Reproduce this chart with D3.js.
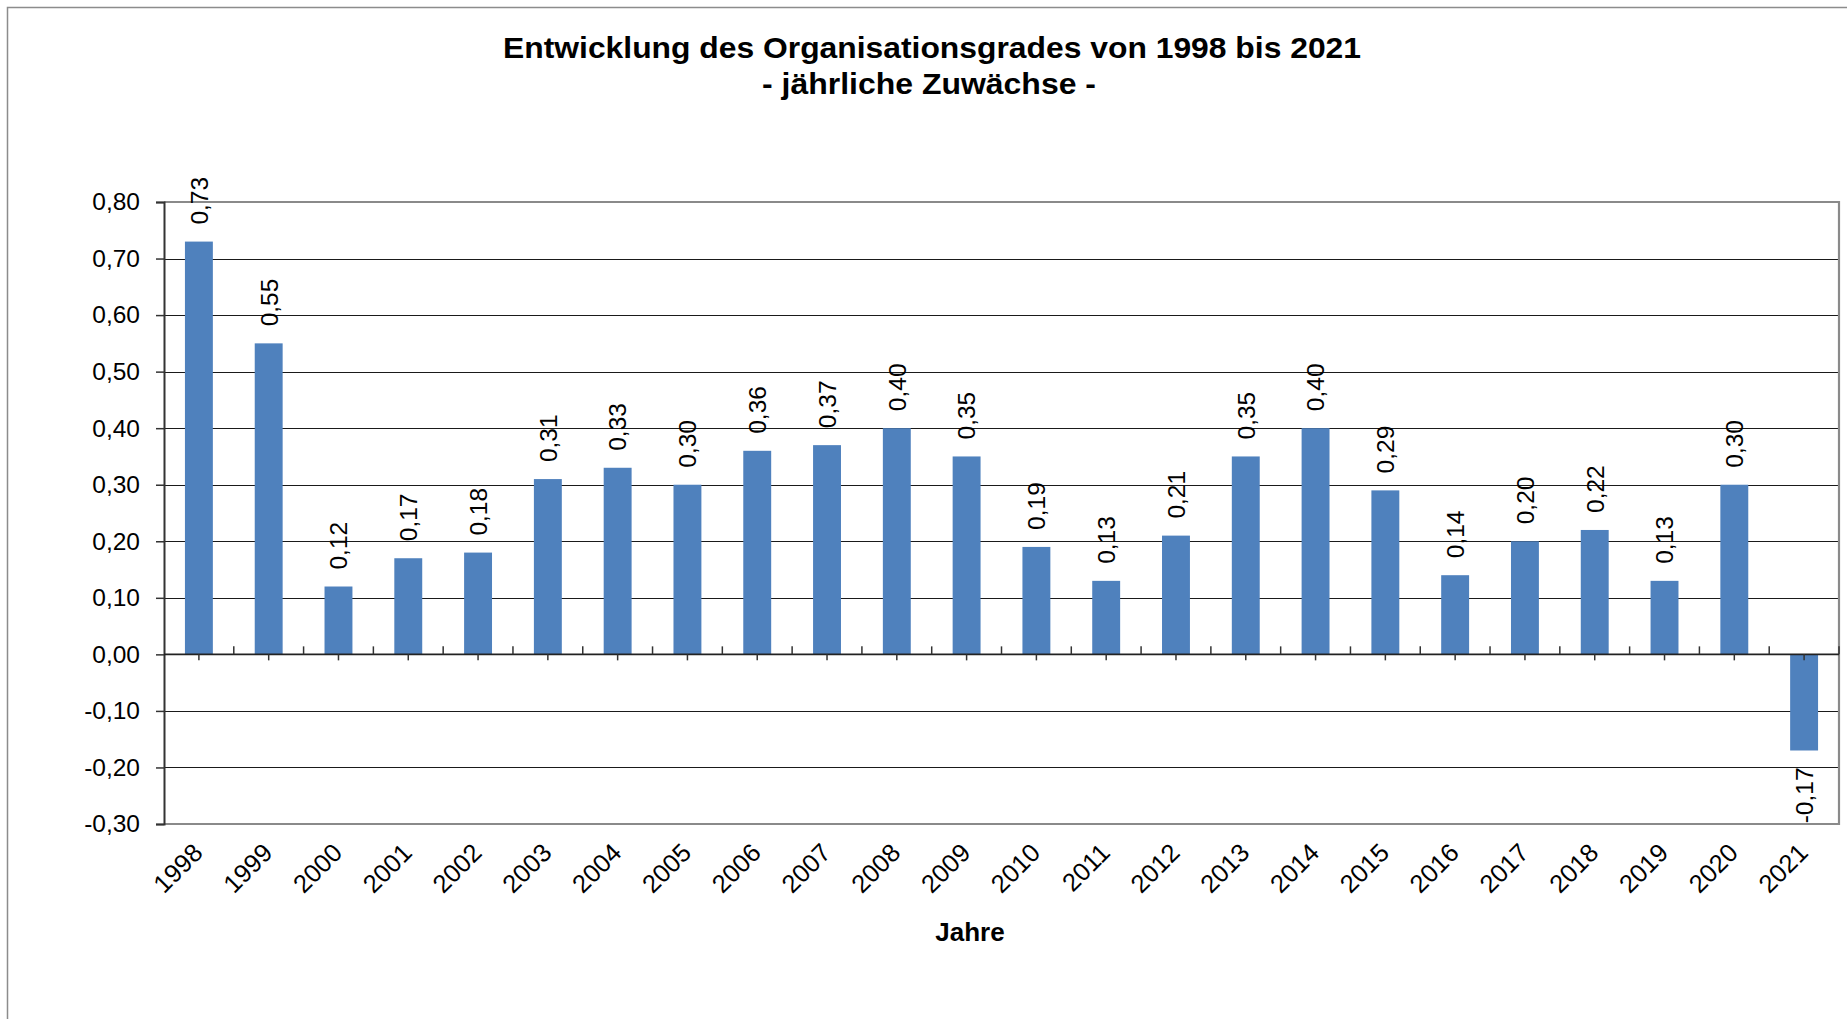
<!DOCTYPE html>
<html>
<head>
<meta charset="utf-8">
<script src="https://cdnjs.cloudflare.com/ajax/libs/d3/7.8.5/d3.min.js"></script>
<style>
  body { margin: 0; background: #fff; }
  svg { display: block; font-family: "Liberation Sans", Arial, sans-serif; }
</style>
</head>
<body>
<svg id="chart"></svg>
<script>
var years = ["1998","1999","2000","2001","2002","2003","2004","2005","2006","2007","2008","2009",
             "2010","2011","2012","2013","2014","2015","2016","2017","2018","2019","2020","2021"];
var values = [0.73, 0.55, 0.12, 0.17, 0.18, 0.31, 0.33, 0.30, 0.36, 0.37, 0.40, 0.35,
              0.19, 0.13, 0.21, 0.35, 0.40, 0.29, 0.14, 0.20, 0.22, 0.13, 0.30, -0.17];
var yTicks = [-0.3, -0.2, -0.1, 0, 0.1, 0.2, 0.3, 0.4, 0.5, 0.6, 0.7, 0.8];
var titleLines = ["Entwicklung des Organisationsgrades von 1998 bis 2021", "- jährliche Zuwächse -"];
var xTitle = "Jahre";

var W = 1847, H = 1019;
var margin = {top: 202, right: 8, bottom: 195, left: 164};
var svg = d3.select("#chart").attr("width", W).attr("height", H);

// German style number: comma decimal, plain hyphen for minus
var fmt = function(v) {
    var s = Math.abs(v).toFixed(2).replace(".", ",");
    return (v < 0 ? "-" : "") + s;
};

// outer chart frame (runs off right/bottom edge)
svg.append("rect")
    .attr("x", 7.5).attr("y", 7.5)
    .attr("width", 1870).attr("height", 1040)
    .attr("fill", "none")
    .attr("stroke", "#8c8c8c")
    .attr("stroke-width", 1.5);

var x = d3.scaleBand()
    .domain(years)
    .range([margin.left, W - margin.right])
    .paddingInner(0.6)
    .paddingOuter(0.3);

var y = d3.scaleLinear()
    .domain([-0.3, 0.8])
    .range([H - margin.bottom, margin.top]);

// gridlines
svg.append("g")
    .selectAll("line")
    .data(yTicks)
    .join("line")
    .attr("x1", margin.left).attr("x2", W - margin.right)
    .attr("y1", function(d) { return Math.round(y(d)) + 0.5; })
    .attr("y2", function(d) { return Math.round(y(d)) + 0.5; })
    .attr("stroke", "#1a1a1a")
    .attr("stroke-width", 1);

// bars
svg.append("g")
    .selectAll("rect")
    .data(values)
    .join("rect")
    .attr("x", function(d, i) { return x(years[i]); })
    .attr("y", function(d) { return y(Math.max(0, d)); })
    .attr("width", x.bandwidth())
    .attr("height", function(d) { return Math.abs(y(d) - y(0)); })
    .attr("fill", "#4f81bd");

// plot area border (top, right, bottom)
svg.append("path")
    .attr("d", "M" + margin.left + "," + y(0.8) + "H" + (W - margin.right) +
               "V" + y(-0.3) + "H" + margin.left)
    .attr("fill", "none")
    .attr("stroke", "#8a8a8a")
    .attr("stroke-width", 2.2);

// y axis
var yAxis = svg.append("g")
    .attr("transform", "translate(" + margin.left + ",0)")
    .call(d3.axisLeft(y).tickValues(yTicks).tickFormat(fmt).tickSize(8).tickPadding(16));
yAxis.select(".domain").attr("stroke", "#333").attr("stroke-width", 2);
yAxis.selectAll(".tick line").attr("stroke", "#333").attr("stroke-width", 1.5);
yAxis.selectAll("text").attr("font-size", 24.5).attr("fill", "#000")
    .attr("font-family", "Liberation Sans, Arial, sans-serif");

// category axis along zero line
var y0 = y(0);
var bounds = d3.range(years.length + 1).map(function(i) { return x.range()[0] + i * x.step(); });
svg.append("line")
    .attr("x1", margin.left).attr("x2", W - margin.right)
    .attr("y1", y0).attr("y2", y0)
    .attr("stroke", "#222").attr("stroke-width", 1.6);
svg.append("g").selectAll("line")
    .data(bounds.slice(1))
    .join("line")
    .attr("x1", function(d) { return d; }).attr("x2", function(d) { return d; })
    .attr("y1", y0 - 8).attr("y2", y0)
    .attr("stroke", "#333").attr("stroke-width", 1.5);
svg.append("g").selectAll("line")
    .data(years)
    .join("line")
    .attr("x1", function(d) { return x(d) + x.bandwidth() / 2; })
    .attr("x2", function(d) { return x(d) + x.bandwidth() / 2; })
    .attr("y1", y0).attr("y2", y0 + 6)
    .attr("stroke", "#333").attr("stroke-width", 1.5);

// rotated year labels below plot
svg.append("g").selectAll("text")
    .data(years)
    .join("text")
    .attr("transform", function(d) {
        return "translate(" + (x(d) + x.bandwidth() / 2 - 1) + "," + (y(-0.3) + 24) + ") rotate(-45)";
    })
    .attr("text-anchor", "end")
    .attr("dy", "0.35em")
    .attr("font-size", 25.5)
    .text(function(d) { return d; });

// data labels (vertical)
svg.append("g").selectAll("text")
    .data(values)
    .join("text")
    .attr("transform", function(d, i) {
        var cx = x(years[i]) + x.bandwidth() / 2;
        var yy = d >= 0 ? y(d) - 17 : y(d) + 17;
        return "translate(" + cx + "," + yy + ") rotate(-90)";
    })
    .attr("text-anchor", function(d) { return d >= 0 ? "start" : "end"; })
    .attr("dy", "0.36em")
    .attr("font-size", 24.5)
    .text(function(d) { return fmt(d); });

// titles
var t = svg.append("g").attr("font-weight", "bold").attr("text-anchor", "middle");
t.append("text")
    .attr("x", 932).attr("y", 58)
    .attr("font-size", 29.5)
    .attr("textLength", 858)
    .attr("lengthAdjust", "spacingAndGlyphs")
    .text(titleLines[0]);
t.append("text")
    .attr("x", 929).attr("y", 94)
    .attr("font-size", 29.5)
    .attr("textLength", 334)
    .attr("lengthAdjust", "spacingAndGlyphs")
    .text(titleLines[1]);
t.append("text")
    .attr("x", 970).attr("y", 941)
    .attr("font-size", 26)
    .text(xTitle);
</script>
</body>
</html>
